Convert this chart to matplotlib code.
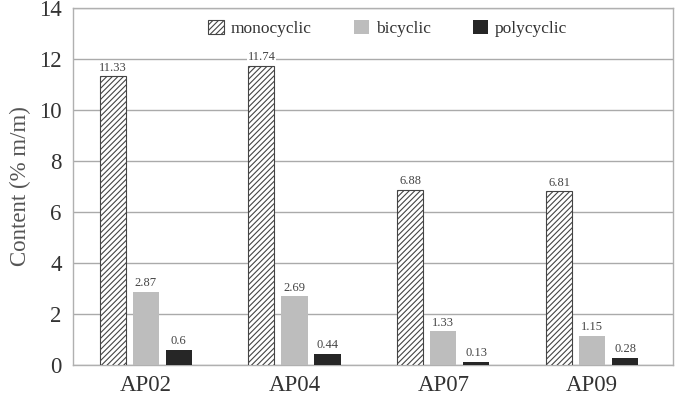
import numpy as np
import matplotlib
matplotlib.use("Agg")
import matplotlib.pyplot as plt

plt.rcParams['font.family'] = ['Liberation Serif', 'DejaVu Serif']
plt.rcParams['hatch.color'] = '#555555'
plt.rcParams['hatch.linewidth'] = 0.8

samples = ['AP02', 'AP04', 'AP07', 'AP09']
monocyclic = [11.33, 11.74, 6.88, 6.81]
bicyclic = [2.87, 2.69, 1.33, 1.15]
polycyclic = [0.6, 0.44, 0.13, 0.28]
mono_labels = ['11.33', '11.74', '6.88', '6.81']
bi_labels = ['2.87', '2.69', '1.33', '1.15']
poly_labels = ['0.6', '0.44', '0.13', '0.28']

fig = plt.figure(figsize=(6.8, 4.0), dpi=100)
ax = fig.add_axes([0.107, 0.0875, 0.883, 0.8925])

x = np.arange(len(samples))
w = 0.175
off = 0.222

b1 = ax.bar(x - off, monocyclic, w, color='white', edgecolor='#444444',
            hatch='//////', linewidth=0.8, label='monocyclic', zorder=3)
b2 = ax.bar(x, bicyclic, w, color='#bdbdbd', linewidth=0, label='bicyclic', zorder=3)
b3 = ax.bar(x + off, polycyclic, w, color='#262626', linewidth=0, label='polycyclic', zorder=3)

for bars, labs in [(b1, mono_labels), (b2, bi_labels), (b3, poly_labels)]:
    for bar, lab in zip(bars, labs):
        ax.text(bar.get_x() + bar.get_width() / 2, bar.get_height() + 0.1, lab,
                ha='center', va='bottom', fontsize=9, color='#444444', zorder=4,
                bbox=dict(facecolor='white', edgecolor='none', pad=0.5))

ax.set_ylim(0, 14)
ax.set_xlim(-0.49, 3.545)
ax.set_yticks(range(0, 15, 2))
ax.set_xticks(x)
ax.set_xticklabels(samples)
ax.tick_params(axis='both', length=0, labelsize=16.5, colors='#333333', pad=8)
ax.tick_params(axis='x', pad=7)
ax.set_ylabel('Content (% m/m)', fontsize=16.5, color='#555555', labelpad=6)
ax.yaxis.grid(True, color='#aaaaaa', linewidth=1.0, zorder=0)
for s in ax.spines.values():
    s.set_color('#b0b0b0')
    s.set_linewidth(1.0)

ax.legend(loc='upper center', bbox_to_anchor=(0.525, 1.01), ncol=3, frameon=False,
          fontsize=12.5, handlelength=0.9, handleheight=0.9, columnspacing=2.4,
          handletextpad=0.4, labelcolor='#333333')

fig.savefig('out.png', dpi=100)
